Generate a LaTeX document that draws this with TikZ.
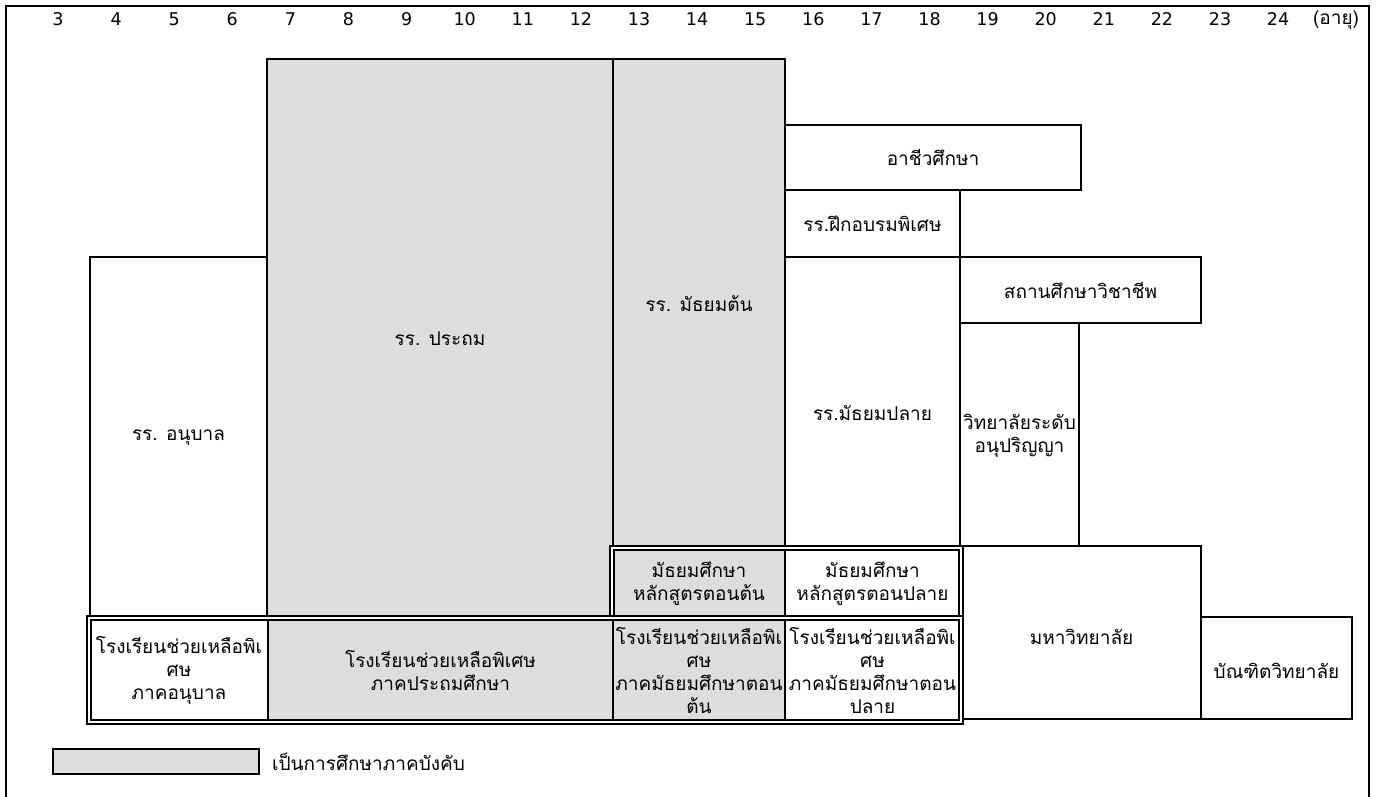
\documentclass[tikz,border=0pt]{standalone}
\usepackage{fontspec}
\usetikzlibrary{positioning}
\newfontfamily\thaifont[Script=Thai]{Loma}
\newfontfamily\digitfont{DejaVu Sans}
\definecolor{mandGray}{RGB}{221,221,221}

\tikzstyle{whiteBox} = [rectangle, inner sep=0pt, align=center, text centered, draw=black, line width=2pt, fill=white, font=\thaifont\fontsize{19}{23}\selectfont]
\tikzstyle{grayBox} = [whiteBox, fill=mandGray]
\tikzstyle{boxText} = [inner sep=0pt, align=center, font=\thaifont\fontsize{19}{23}\selectfont]
\tikzstyle{ageLabel} = [inner sep=0pt, font=\digitfont\fontsize{17.5}{20}\selectfont]
\tikzstyle{dblFrame} = [draw=black, double=white, double distance=2.4pt, line width=1.4pt]

\begin{document}
\begin{tikzpicture}[x=1pt, y=-1pt]
    \useasboundingbox (0,0) rectangle (1383,796);
    % outer frame
    \draw[line width=2pt] (6,800) -- (6,6) -- (1369,6) -- (1369,800);

    % ages
    \foreach \a in {3,...,24}
        \node (age\a)[ageLabel] at ({58+(\a-3)*58.1},19) {\a};
    \node (ageUnit)[boxText] at (1336,20.5) {(อายุ)};

    % main schools
    \node (kinder)[whiteBox, minimum width=177pt, minimum height=362pt] at (178.5,438) {รร. อนุบาล};
    \node (primary)[grayBox, minimum width=346pt, minimum height=560pt] at (440,339) {รร. ประถม};
    \node (lowerSec)[grayBox, minimum width=172pt, minimum height=489pt] at (699,303.5) {รร. มัธยมต้น};
    \node (vocational)[whiteBox, minimum width=296pt, minimum height=65pt] at (933,157.5) {อาชีวศึกษา};
    \node (training)[whiteBox, minimum width=175pt, minimum height=67pt] at (872.5,223.5) {รร.ฝึกอบรมพิเศษ};
    \node (professional)[whiteBox, minimum width=241pt, minimum height=66pt] at (1080.5,290) {สถานศึกษาวิชาชีพ};
    \node (upperSec)[whiteBox, minimum width=175pt, minimum height=291pt] at (872.5,402.5) {};
    \node (upperSecText)[boxText] at ([yshift=-10pt]upperSec.center) {รร.มัธยมปลาย};
    \node (assoc)[whiteBox, minimum width=119pt, minimum height=225pt] at (1019.5,435.5) {วิทยาลัยระดับ\\อนุปริญญา};
    \node (univ)[whiteBox, minimum width=239pt, minimum height=173pt] at (1081.5,632.5) {};
    \node (univText)[boxText] at ([yshift=-4pt]univ.center) {มหาวิทยาลัย};
    \node (graduate)[whiteBox, minimum width=151pt, minimum height=102pt] at (1276.5,668) {};
    \node (graduateText)[boxText] at ([yshift=-3pt]graduate.center) {บัณฑิตวิทยาลัย};

    % secondary courses
    \node (lowerCourse)[grayBox, minimum width=172pt, minimum height=70pt] at (699,584) {มัธยมศึกษา\\หลักสูตรตอนต้น};
    \node (upperCourse)[whiteBox, minimum width=175pt, minimum height=70pt] at (872.5,584) {มัธยมศึกษา\\หลักสูตรตอนปลาย};
    \draw[dblFrame] (lowerCourse.south west) rectangle (upperCourse.north east);

    % special schools
    \node (kinderSp)[whiteBox, minimum width=178pt, minimum height=102pt] at (179,670) {โรงเรียนช่วยเหลือพิเ\\ศษ\\ภาคอนุบาล};
    \node (primarySp)[grayBox, minimum width=345pt, minimum height=102pt] at (440.5,670) {โรงเรียนช่วยเหลือพิเศษ\\ภาคประถมศึกษา};
    \node (lowerSp)[grayBox, minimum width=172pt, minimum height=102pt] at (699,670) {โรงเรียนช่วยเหลือพิเ\\ศษ\\ภาคมัธยมศึกษาตอน\\ต้น};
    \node (upperSp)[whiteBox, minimum width=175pt, minimum height=102pt] at (872.5,670) {โรงเรียนช่วยเหลือพิเ\\ศษ\\ภาคมัธยมศึกษาตอน\\ปลาย};
    \draw[dblFrame] (kinderSp.south west) rectangle (upperSp.north east);

    % legend
    \node (legendBox)[grayBox, minimum width=206pt, minimum height=25pt] at (156,761.5) {};
    \node (legendText)[boxText, right=12pt of legendBox] {เป็นการศึกษาภาคบังคับ};
\end{tikzpicture}
\end{document}
